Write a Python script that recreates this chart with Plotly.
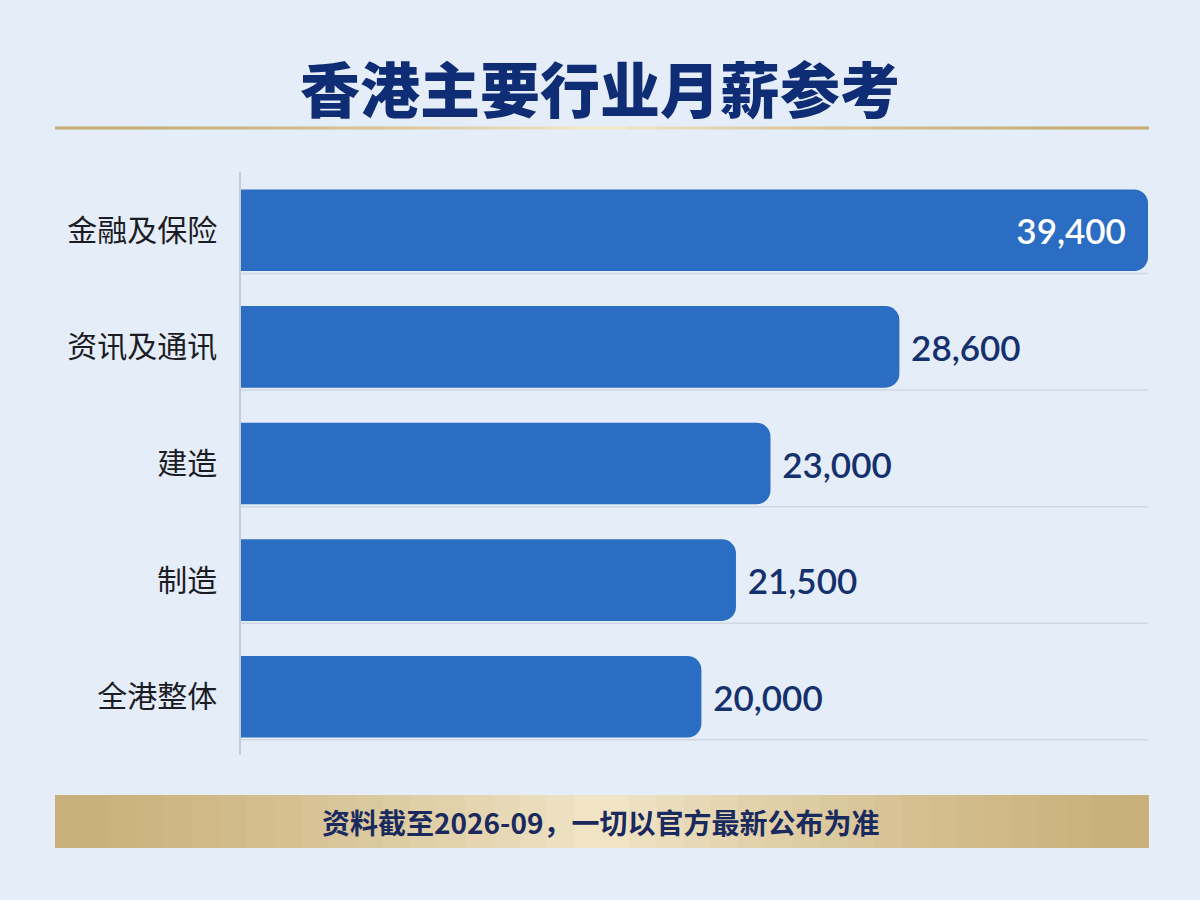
import plotly.graph_objects as go

categories = ["金融及保险", "资讯及通讯", "建造", "制造", "全港整体"]
salaries = [39400, 28600, 23000, 21500, 20000]
title_text = "香港主要行业月薪参考"
footer_text = "资料截至2026-09，一切以官方最新公布为准"

W, H = 1200, 900
L, R, T, B = 241, 52, 172, 145
PW, PH = W - L - R, H - T - B


def px_x(px):
    return (px - L) / PW


def px_y(py):
    return (H - B - py) / PH


text_pos = ["inside" if v == max(salaries) else "outside" for v in salaries]
text_tpl = ["%{x:,}  " if p == "inside" else " %{x:,}" for p in text_pos]

fig = go.Figure()
fig.add_trace(go.Bar(
    y=categories,
    x=salaries,
    orientation="h",
    marker=dict(color="#2a6dc2", cornerradius=14, line=dict(width=0)),
    width=0.70,
    texttemplate=text_tpl,
    textposition=text_pos,
    insidetextanchor="end",
    insidetextfont=dict(family="Lato, Noto Sans CJK SC", size=35, color="#ffffff", weight=600),
    outsidetextfont=dict(family="Lato, Noto Sans CJK SC", size=35, color="#14306d", weight=600),
    cliponaxis=False,
    constraintext="none",
    hoverinfo="skip",
))

shapes = []
for i in range(len(categories)):
    shapes.append(dict(type="line", xref="x domain", yref="y", x0=0, x1=1,
                       y0=i + 0.37, y1=i + 0.37, line=dict(color="#cfd7e3", width=1.5),
                       layer="below"))


def lerp(c1, c2, t):
    return "#%02x%02x%02x" % tuple(int(round(a + (b - a) * t)) for a, b in zip(c1, c2))


n = 40
x_left, x_right = px_x(55), px_x(1148)
for k in range(n):
    t0 = k / n
    t1 = (k + 1) / n
    tc = (t0 + t1) / 2
    w = 1 - abs(tc - 0.5) * 2
    xa = x_left + (x_right - x_left) * t0
    xb = x_left + (x_right - x_left) * t1 + 0.001
    shapes.append(dict(type="rect", xref="paper", yref="paper",
                       x0=xa, x1=xb, y0=px_y(129.5), y1=px_y(126.5),
                       fillcolor=lerp((0xc4, 0xaa, 0x70), (0xf3, 0xe8, 0xc9), w ** 1.6),
                       line=dict(width=0), layer="below"))
    shapes.append(dict(type="rect", xref="paper", yref="paper",
                       x0=xa, x1=xb, y0=px_y(848), y1=px_y(795),
                       fillcolor=lerp((0xc9, 0xb0, 0x7a), (0xf1, 0xe6, 0xc8), w ** 1.4),
                       line=dict(width=0), layer="below"))

annotations = [
    dict(text=title_text, xref="paper", yref="paper", x=px_x(600), y=px_y(86),
         xanchor="center", yanchor="middle", showarrow=False,
         font=dict(family="Noto Sans CJK SC", size=60, color="#0f2d75", weight=900)),
    dict(text=footer_text, xref="paper", yref="paper", x=px_x(600), y=px_y(822),
         xanchor="center", yanchor="middle", showarrow=False,
         font=dict(family="Noto Sans CJK SC", size=28, color="#1a2a5e", weight=700)),
]

fig.update_layout(
    width=W, height=H,
    margin=dict(l=L, r=R, t=T, b=B, pad=0),
    paper_bgcolor="#e5edf8",
    plot_bgcolor="rgba(0,0,0,0)",
    showlegend=False,
    bargap=0.3,
    shapes=shapes,
    annotations=annotations,
    xaxis=dict(range=[0, max(salaries)], showgrid=False, zeroline=False,
               showticklabels=False, showline=False, fixedrange=True),
    yaxis=dict(autorange="reversed", showgrid=False, zeroline=False,
               showline=True, linecolor="#c3ccd8", linewidth=1.5,
               ticks="", ticklabelstandoff=16,
               tickfont=dict(family="Noto Sans CJK SC", size=30, color="#1c1c24")),
)

fig.write_html("out.html", config={"displayModeBar": False},
               post_script="document.body.style.margin='0';document.body.style.background='#e5edf8';")
